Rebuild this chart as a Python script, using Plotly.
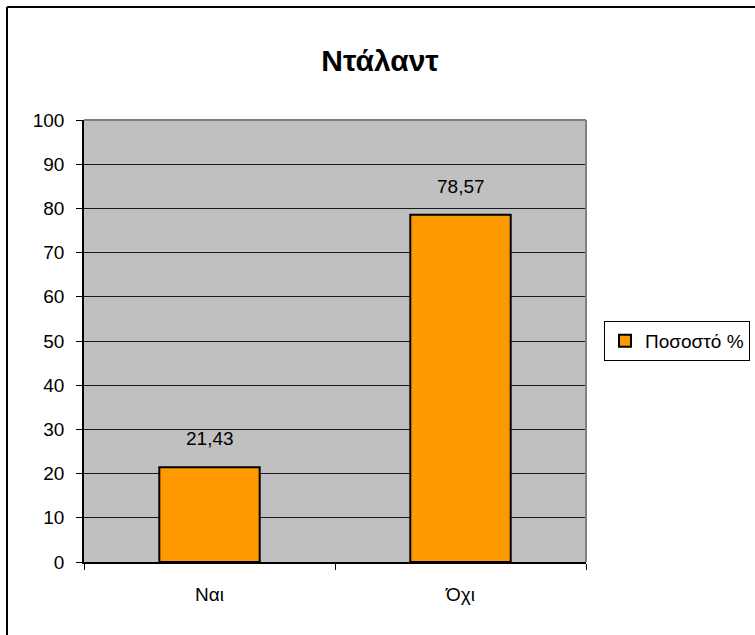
import plotly.graph_objects as go

# Survey answers and their share (%)
categories = ["Ναι", "Όχι"]
percentages = [21.43, 78.57]
series_name = "Ποσοστό %"
chart_title = "Ντάλαντ"
y_ticks = list(range(0, 101, 10))

W, H = 755, 635
ML, MR, MT, MB = 84, 169, 120, 73
PW, PH = W - ML - MR, H - MT - MB

FONT = "Arial, Liberation Sans, sans-serif"

fig = go.Figure()
fig.add_trace(go.Bar(
    x=categories,
    y=percentages,
    name=series_name,
    marker=dict(color="#FF9900", line=dict(color="#000000", width=2)),
    width=0.4,
    showlegend=True,
))

# value labels above each bar
for cat, val in zip(categories, percentages):
    fig.add_annotation(
        x=cat, y=val, xref="x", yref="y",
        text=f"{val:.2f}".replace(".", ","),
        showarrow=False, yanchor="bottom", yshift=16,
        font=dict(family=FONT, size=19, color="#000000"),
    )

# grey frame on top and right of the plotting area
fig.add_shape(type="line", xref="paper", yref="paper", x0=0, x1=1, y0=1, y1=1,
              line=dict(color="#808080", width=2), layer="above")
fig.add_shape(type="line", xref="paper", yref="paper", x0=1, x1=1, y0=0, y1=1,
              line=dict(color="#808080", width=2), layer="above")

# outer chart border (left and top edges)
px_x = lambda p: (p - ML) / PW
px_y = lambda p: (H - MB - p) / PH
fig.add_shape(type="line", xref="paper", yref="paper",
              x0=px_x(7), x1=px_x(W + 5), y0=px_y(7), y1=px_y(7),
              line=dict(color="#000000", width=2))
fig.add_shape(type="line", xref="paper", yref="paper",
              x0=px_x(7), x1=px_x(7), y0=px_y(7), y1=px_y(H + 5),
              line=dict(color="#000000", width=2))

fig.update_layout(
    width=W, height=H,
    margin=dict(l=ML, r=MR, t=MT, b=MB, autoexpand=False),
    paper_bgcolor="#FFFFFF",
    plot_bgcolor="#C0C0C0",
    font=dict(family=FONT, size=19, color="#000000"),
    title=dict(
        text=f"<b>{chart_title}</b>",
        x=380 / W, xanchor="center",
        y=1 - 60 / H, yanchor="middle", yref="container",
        font=dict(family=FONT, size=30, color="#000000"),
    ),
    bargap=0.6,
    xaxis=dict(
        type="category",
        showline=True, linecolor="#000000", linewidth=1.5,
        ticks="outside", tickson="boundaries", ticklen=6, tickcolor="#000000",
        ticklabelstandoff=14,
        showgrid=False, zeroline=False,
        tickfont=dict(family=FONT, size=19, color="#000000"),
    ),
    yaxis=dict(
        range=[0, 100], tickvals=y_ticks,
        showline=True, linecolor="#000000", linewidth=1.5,
        ticks="outside", ticklen=6, tickcolor="#000000",
        ticklabelstandoff=8,
        showgrid=True, gridcolor="#1a1a1a", gridwidth=1,
        zeroline=False,
        tickfont=dict(family=FONT, size=19, color="#000000"),
    ),
    legend=dict(
        x=px_x(604), xanchor="left", y=0.5, yanchor="middle",
        bgcolor="#FFFFFF", bordercolor="#000000", borderwidth=1,
        font=dict(family=FONT, size=19, color="#000000"),
        itemwidth=30,
    ),
)

fig.write_html("out.html")
